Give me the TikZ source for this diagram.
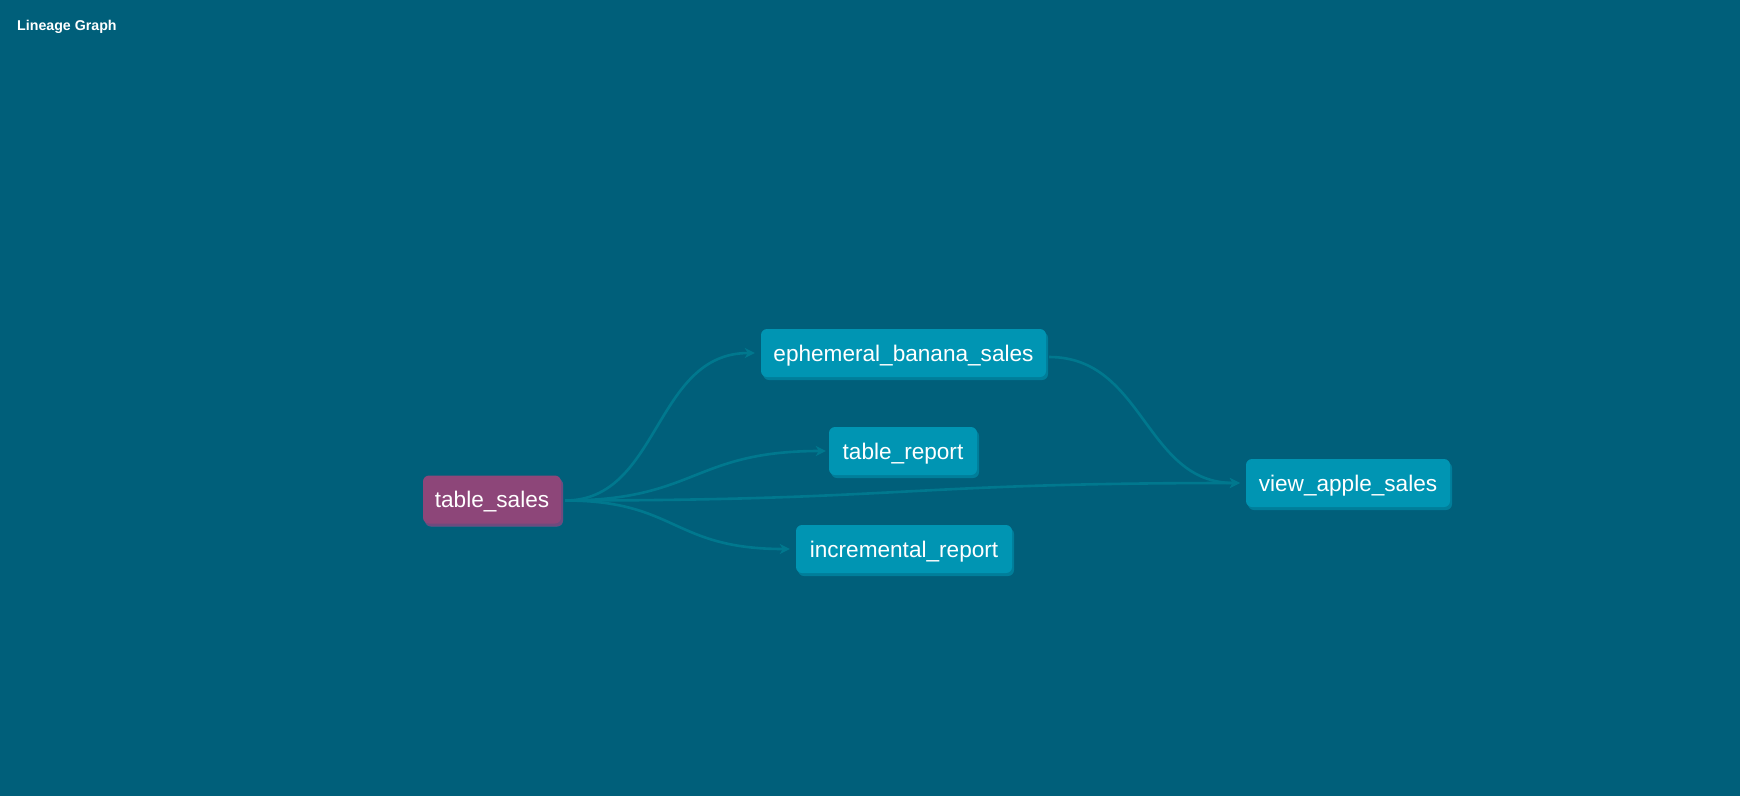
\documentclass[tikz,border=0pt]{standalone}
\usepackage{fontspec}
\setmainfont{Liberation Sans}
\usetikzlibrary{arrows.meta,shadows}
\definecolor{bg}{HTML}{005F7A}
\definecolor{nodeteal}{HTML}{0095B3}
\definecolor{shadteal}{HTML}{007E9A}
\definecolor{nodepurple}{HTML}{8D4679}
\definecolor{shadpurple}{HTML}{6E4A7E}
\definecolor{edgecol}{HTML}{00788E}
\tikzset{
  model/.style={rounded corners=6pt, fill=nodeteal, text=white, inner sep=0pt,
    minimum height=48pt, text height=18pt, text depth=2pt, font=\fontsize{22.6}{26}\selectfont,
    drop shadow={shadow xshift=2pt, shadow yshift=-3pt, fill=shadteal, opacity=1}},
  source/.style={model, fill=nodepurple,
    drop shadow={shadow xshift=2pt, shadow yshift=-3pt, fill=shadpurple, opacity=1}},
  edge/.style={draw=edgecol, line width=2.6pt, -{Stealth[length=10pt, width=10pt, inset=3pt]}}
}
\begin{document}
\begin{tikzpicture}[x=1pt,y=-1pt]
\fill[bg] (0,0) rectangle (1740,796);
\useasboundingbox (0,0) rectangle (1740,796);
\node[anchor=west, inner sep=0pt, text=white, font=\fontsize{14.2}{17}\selectfont\bfseries] (title) at (17,26.5) {Lineage Graph};
\node[source, minimum width=138pt] (ts) at (492,499.5) {table\_sales};
\node[model, minimum width=285pt] (eb) at (903.5,353) {ephemeral\_banana\_sales};
\node[model, minimum width=148pt] (tr) at (903,451) {table\_report};
\node[model, minimum width=216pt] (ir) at (904,549) {incremental\_report};
\node[model, minimum width=204pt] (va) at (1348,483) {view\_apple\_sales};
\draw[edge] ([xshift=4pt,yshift=-1pt]ts.east) .. controls +(95,0) and +(-101,0) .. ([xshift=-6pt]eb.west);
\draw[edge] ([xshift=4pt,yshift=-1pt]ts.east) .. controls +(131,0) and +(-133,0) .. ([xshift=-3pt]tr.west);
\draw[edge] ([xshift=4pt,yshift=-1pt]ts.east) .. controls +(112,0) and +(-118,0) .. ([xshift=-6pt]ir.west);
\draw[edge] ([xshift=4pt,yshift=-1pt]ts.east) .. controls +(337,0) and +(-337,0) .. ([xshift=-6pt]va.west);
\draw[edge] ([xshift=3pt,yshift=-4pt]eb.east) .. controls +(95,0) and +(-95,0) .. ([xshift=-6pt]va.west);
\end{tikzpicture}
\end{document}
